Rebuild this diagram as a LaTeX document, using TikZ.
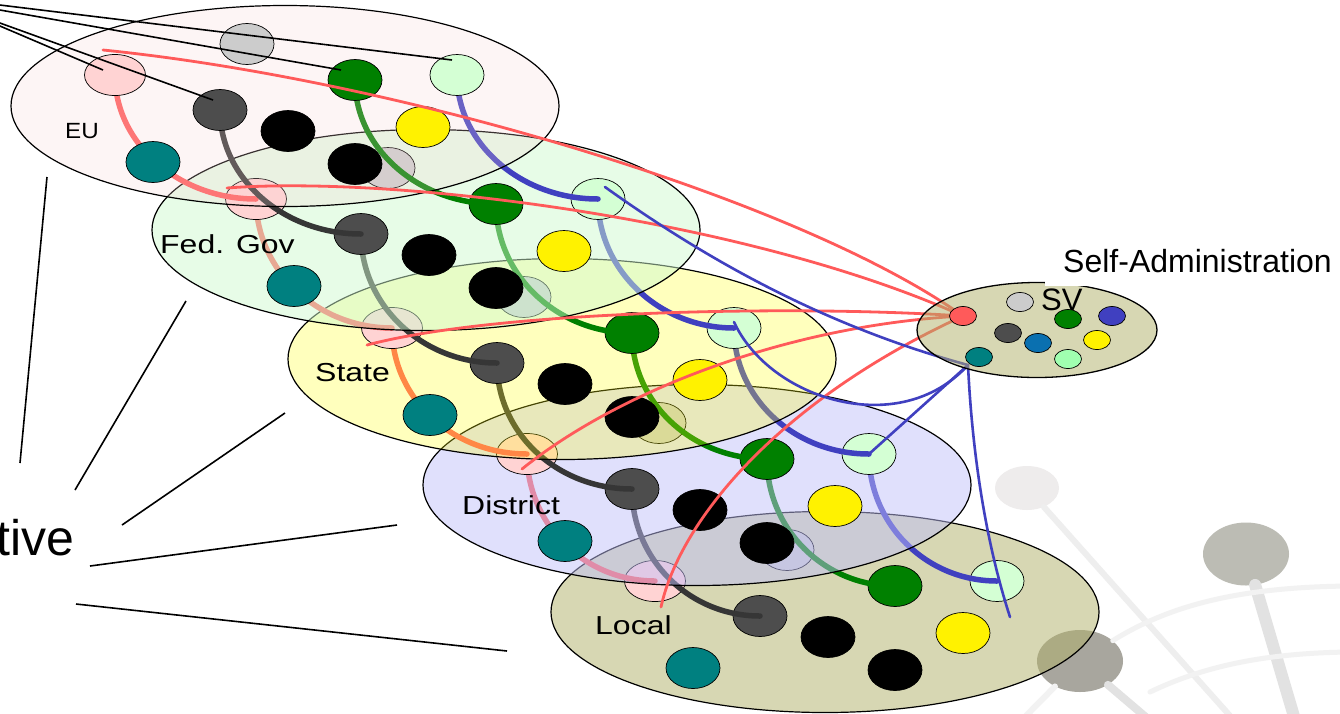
\documentclass[tikz,border=0pt]{standalone}
\usepackage{fontspec}
\setmainfont{Liberation Sans}
\usetikzlibrary{shapes.geometric,calc}
\pgfdeclarelayer{bg}
\pgfdeclarelayer{lLo}
\pgfdeclarelayer{lDi}
\pgfdeclarelayer{lSt}
\pgfdeclarelayer{lFe}
\pgfdeclarelayer{lEu}
\pgfdeclarelayer{svl}
\pgfsetlayers{bg,lLo,lDi,lSt,lFe,lEu,main,svl}
\definecolor{cpink}{RGB}{255,211,211}
\definecolor{cteal}{RGB}{0,128,128}
\definecolor{cdgrey}{RGB}{77,77,77}
\definecolor{cgrey}{RGB}{204,204,204}
\definecolor{cgreen}{RGB}{0,128,0}
\definecolor{clgreen}{RGB}{212,255,212}
\definecolor{cred}{RGB}{255,90,90}
\definecolor{cblue}{RGB}{64,64,192}
\definecolor{cchdg}{RGB}{54,54,54}
\definecolor{csteel}{RGB}{10,112,176}
\definecolor{cpale}{RGB}{160,255,176}
\definecolor{fEu}{RGB}{247,213,213}
\definecolor{fFe}{RGB}{208,250,208}
\definecolor{fSt}{RGB}{255,255,18}
\definecolor{fDi}{RGB}{192,192,250}
\definecolor{fLo}{RGB}{177,177,105}
\definecolor{blobA}{RGB}{238,236,236}
\definecolor{blobB}{RGB}{188,188,180}
\definecolor{blobC}{RGB}{168,166,158}
\definecolor{bgl1}{RGB}{238,238,238}
\definecolor{bgl2}{RGB}{226,226,226}
\definecolor{bgl3}{RGB}{242,242,242}
\tikzset{
 lvl/.style={ellipse, draw=black, line width=1.2pt, minimum width=548pt, minimum height=201pt, inner sep=0pt},
 cir/.style={ellipse, draw=black, line width=0.7pt, minimum width=54pt, minimum height=41pt, inner sep=0pt},
 pcir/.style={cir, minimum width=61pt},
 scir/.style={ellipse, draw=black, line width=0.7pt, minimum width=27pt, minimum height=19pt, inner sep=0pt},
 chain/.style={line width=5.5pt, line cap=round},
 redln/.style={line width=2.8pt, line cap=round, cred},
 blueln/.style={line width=2.6pt, line cap=round, cblue},
 pointer/.style={line width=1.6pt, black},
 lbl/.style={anchor=base west, inner sep=0pt, font=\fontsize{26}{26}\selectfont},
 blob/.style={ellipse, inner sep=0pt},
 bgline/.style={line cap=round},
}
\newcommand\lvlcircles[3]{%
  \node[cir,fill=cgrey] (#1-grey) at (#2-38,#3-62) {};
  \node[pcir,fill=cpink] (#1-pink) at (#2-170,#3-31) {};
  \node[cir,fill=cgreen] (#1-green) at (#2+70,#3-26) {};
  \node[cir,fill=clgreen] (#1-lgreen) at (#2+172,#3-31) {};
  \node[cir,fill=cdgrey] (#1-dgrey) at (#2-65,#3+4) {};
  \node[cir,fill=black] (#1-blackA) at (#2+3,#3+25) {};
  \node[cir,fill=yellow] (#1-yellow) at (#2+138,#3+21) {};
  \node[cir,fill=cteal] (#1-teal) at (#2-132,#3+56) {};
  \node[cir,fill=black] (#1-blackB) at (#2+70,#3+58) {};
}
\newcommand\lvlchains[4]{%
  \draw[chain,cred] (#1-pink.center) .. controls +(0,#3) and +(-#4,0) .. (#2-pink.center);
  \draw[chain,cchdg] (#1-dgrey.center) .. controls +(0,#3) and +(-#4,0) .. (#2-dgrey.center);
  \draw[chain,cgreen] (#1-green.center) .. controls +(0,#3) and +(-#4,0) .. (#2-green.center);
  \draw[chain,cblue] (#1-lgreen.center) .. controls +(0,#3) and +(-#4,0) .. (#2-lgreen.center);
}
\begin{document}
\begin{tikzpicture}[x=1pt,y=-1pt]
\useasboundingbox (0,0) rectangle (1340,713);
% ---------- faint background decoration
\begin{pgfonlayer}{bg}
\fill[white] (0,0) rectangle (1340,713);
\node[blob, fill=blobA, minimum width=64pt, minimum height=44pt] (bgA) at (1027,488) {};
\node[blob, fill=blobB, minimum width=86pt, minimum height=63pt] (bgB) at (1246,554) {};
\node[blob, fill=blobC, minimum width=86pt, minimum height=62pt] (bgC) at (1080,661) {};
\coordinate (bgAend) at (1240,727);
\coordinate (bgBend) at (1298,730);
\coordinate (bgCend) at (1161,730);
\coordinate (bgCend2) at (1012,730);
\coordinate (arc1e) at (1350,586);
\coordinate (arc2s) at (1150,692);
\coordinate (arc2e) at (1350,652);
\draw[bgline, bgl1, line width=6pt] (bgA) -- (bgAend);
\draw[bgline, bgl2, line width=12pt] (bgB) -- (bgBend);
\draw[bgline, bgl2, line width=8pt] (bgC) -- (bgCend);
\draw[bgline, bgl3, line width=6pt] (bgC) -- (bgCend2);
\draw[bgline, bgl3, line width=5pt] (bgC) .. controls (1170,605) and (1240,587) .. (arc1e);
\draw[bgline, bgl3, line width=5pt] (arc2s) .. controls (1200,668) and (1260,653) .. (arc2e);
\end{pgfonlayer}
% ---------- levels (top level drawn last)
\begin{pgfonlayer}{lEu}
\node[lvl, fill=fEu, fill opacity=.23] (EU) at (285,106) {};
\lvlcircles{eu}{285}{106}
\end{pgfonlayer}
\begin{pgfonlayer}{lFe}
\node[lvl, fill=fFe, fill opacity=.49] (FED) at (426,230) {};
\lvlcircles{fe}{426}{230}
\lvlchains{eu}{fe}{68}{78}
\end{pgfonlayer}
\begin{pgfonlayer}{lSt}
\node[lvl, fill=fSt, fill opacity=.275] (STATE) at (562,359) {};
\lvlcircles{st}{562}{359}
\lvlchains{fe}{st}{71}{75}
\end{pgfonlayer}
\begin{pgfonlayer}{lDi}
\node[lvl, fill=fDi, fill opacity=.49] (DIST) at (697,485) {};
\lvlcircles{di}{697}{485}
\lvlchains{st}{di}{70}{75}
\end{pgfonlayer}
\begin{pgfonlayer}{lLo}
\node[lvl, fill=fLo, fill opacity=.5] (LOCAL) at (825,612) {};
\lvlcircles{lo}{825}{612}
\lvlchains{di}{lo}{70}{71}
\end{pgfonlayer}
% ---------- self-administration
\begin{pgfonlayer}{svl}
\node[ellipse, draw=black, line width=1.3pt, fill=fLo, fill opacity=.5, minimum width=240pt, minimum height=95pt, inner sep=0pt] (SVE) at (1037,330) {};
\node[scir, fill=cred] (sv-red) at (963,316) {};
\node[scir, fill=cgrey] (sv-grey) at (1020,302) {};
\node[scir, fill=cgreen] (sv-green) at (1068,319) {};
\node[scir, fill=cblue] (sv-blue) at (1112,316) {};
\node[scir, fill=cdgrey] (sv-dgrey) at (1008,333) {};
\node[scir, fill=csteel] (sv-steel) at (1038,343) {};
\node[scir, fill=yellow] (sv-yellow) at (1097,340) {};
\node[scir, fill=cpale] (sv-pale) at (1068,359) {};
\node[scir, fill=cteal] (sv-teal) at (979,357) {};
\node[fill=white, inner xsep=18pt, inner ysep=14pt, anchor=base west, font=\fontsize{32}{32}\selectfont] (selfadm) at (1045,272) {Self-Administration};
\node[anchor=base west, inner sep=0pt, font=\fontsize{31}{31}\selectfont] (svlab) at (1041,310) {SV};
\end{pgfonlayer}
% ---------- labels
\node[lbl, font=\fontsize{22}{22}\selectfont] (lab-eu) at (65,138) {\scalebox{1.1}[1]{EU}};
\node[lbl] (lab-fed) at (160,253) {\scalebox{1.23}[1]{Fed. Gov}};
\node[lbl] (lab-state) at (315,381) {\scalebox{1.23}[1]{State}};
\node[lbl] (lab-dist) at (462,514) {\scalebox{1.23}[1]{District}};
\node[lbl] (lab-local) at (595,634) {\scalebox{1.23}[1]{Local}};
\node[anchor=base west, inner sep=0pt, font=\fontsize{50}{50}\selectfont] (tive) at (-4,555) {tive};
% ---------- pointer lines from the left
\coordinate (src1) at (-20,2.6);
\coordinate (src2) at (-20,6.5);
\coordinate (src3) at (-20,15.8);
\coordinate (src4) at (-20,17.5);
\draw[pointer] (src1) -- ($(eu-lgreen.center)+(-5,-15)$);
\draw[pointer] (src2) -- ($(eu-green.center)+(-14,-10)$);
\draw[pointer] (src3) -- ($(eu-dgrey.center)+(-7,-10)$);
\draw[pointer] (src4) -- ($(eu-pink.center)+(-12,-5)$);
\coordinate (t1a) at (20,463);  \coordinate (t1b) at (47,177);
\coordinate (t2a) at (75,490);  \coordinate (t2b) at (186,301);
\coordinate (t3a) at (122,525); \coordinate (t3b) at (285,413);
\coordinate (t4a) at (90,566);  \coordinate (t4b) at (397,525);
\coordinate (t5a) at (76,604);  \coordinate (t5b) at (507,651);
\draw[pointer] (t1a) -- (t1b);
\draw[pointer] (t2a) -- (t2b);
\draw[pointer] (t3a) -- (t3b);
\draw[pointer] (t4a) -- (t4b);
\draw[pointer] (t5a) -- (t5b);
% ---------- red links to SV
\draw[redln] ($(eu-pink.center)+(-12,-25)$) .. controls (400,80) and (800,200) .. (sv-red.center);
\draw[redln] ($(fe-pink.center)+(-29,-11)$) .. controls (400,175) and (750,220) .. (sv-red.center);
\draw[redln] ($(st-pink.center)+(-25,17)$) .. controls (500,310) and (800,305) .. (sv-red.center);
\draw[redln] ($(di-pink.center)+(-5,15)$) .. controls (620,390) and (790,325) .. (sv-red.center);
\draw[redln] ($(lo-pink.center)+(6,26)$) .. controls (680,520) and (780,400) .. (sv-red.center);
% ---------- blue links to SV
\coordinate (svend) at ($(sv-teal.center)+(-11,8)$);
\draw[blueln] ($(fe-lgreen.center)+(7,-12)$) .. controls (700,255) and (820,325) .. (svend);
\draw[blueln] ($(st-lgreen.center)+(0,-6)$) .. controls (770,400) and (900,440) .. (svend);
\draw[blueln] (di-lgreen.center) -- (svend);
\draw[blueln] (svend) .. controls (972,450) and (985,540) .. ($(lo-lgreen.center)+(13,36)$);
\end{tikzpicture}
\end{document}
